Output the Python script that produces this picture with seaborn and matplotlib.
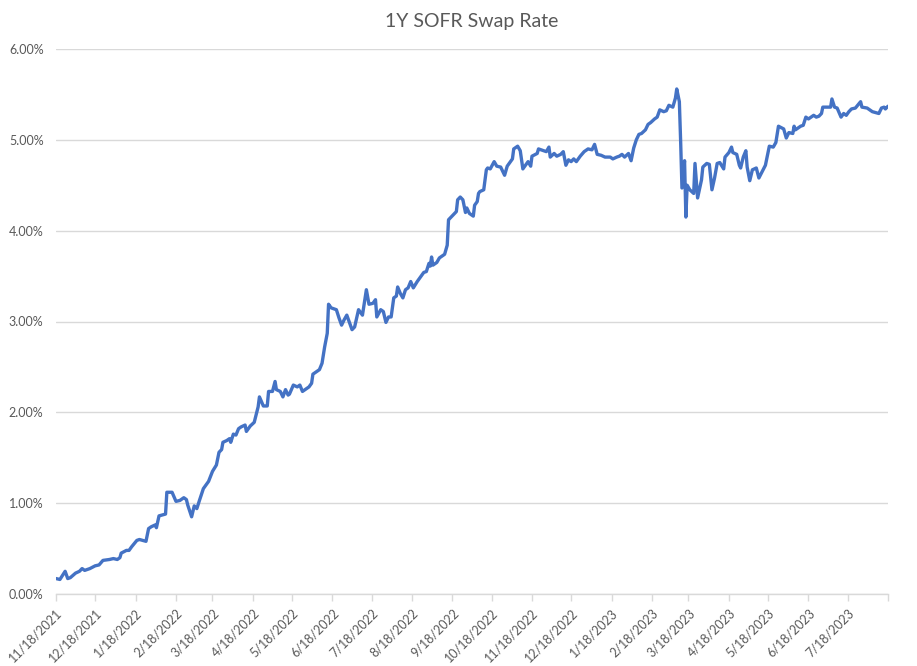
import numpy as np
import pandas as pd
import matplotlib
matplotlib.use("Agg")
import matplotlib.pyplot as plt
import matplotlib.dates as mdates
from matplotlib.ticker import FuncFormatter, FixedLocator
import seaborn as sns

# ---- data ----
title = "1Y SOFR Swap Rate"
start_date = "2021-11-18"
end_date = "2023-08-18"

# days since start_date
days = [0, 3, 7, 9, 11, 15, 18, 20, 22, 26, 30, 33, 36, 41, 44, 47, 49, 50, 54, 56,
        58, 62, 64, 69, 71, 73, 76, 77, 79, 84, 85, 89, 92, 95, 98, 100, 101, 104, 106, 108,
        110, 113, 117, 120, 123, 125, 127, 128, 131, 133, 134, 136, 138, 140, 142, 145, 146, 149, 152, 155,
        156, 159, 162, 163, 166, 168, 169, 172, 174, 176, 178, 179, 182, 185, 187, 189, 194, 196, 197, 202,
        204, 206, 208, 209, 211, 215, 217, 219, 221, 223, 227, 229, 232, 235, 238, 240, 243, 245, 246, 249,
        251, 253, 255, 257, 259, 261, 262, 264, 266, 268, 270, 272, 274, 277, 279, 282, 284, 286, 287, 288,
        289, 292, 294, 298, 300, 301, 303, 307, 308, 310, 312, 314, 315, 317, 320, 321, 323, 324, 325, 328,
        330, 331, 333, 336, 338, 341, 344, 346, 350, 351, 354, 356, 358, 360, 362, 364, 365, 369, 370, 374,
        376, 378, 379, 382, 384, 387, 389, 391, 393, 395, 397, 399, 402, 405, 408, 411, 413, 415, 418, 421,
        425, 427, 430, 432, 434, 436, 439, 441, 443, 445, 447, 449, 452, 454, 456, 459, 461, 463, 466, 468,
        470, 473, 475, 476, 478, 479, 480, 482, 483, 484, 486, 489, 490, 492, 495, 496, 499, 501, 503, 505,
        507, 509, 512, 513, 516, 518, 519, 522, 524, 525, 527, 529, 530, 532, 534, 537, 539, 544, 547, 550,
        552, 554, 558, 560, 562, 565, 566, 567, 571, 573, 575, 577, 581, 583, 585, 587, 588, 594, 595, 597,
        599, 602, 604, 606, 608, 610, 613, 617, 618, 622, 626, 631, 633, 635, 636, 638]

# rate in percent
rates = [0.17, 0.16, 0.25, 0.17, 0.18, 0.23, 0.25, 0.28, 0.26, 0.28, 0.31, 0.32, 0.37, 0.38, 0.39, 0.38, 0.40, 0.45, 0.48, 0.48,
         0.52, 0.59, 0.60, 0.58, 0.72, 0.74, 0.76, 0.73, 0.86, 0.88, 1.12, 1.12, 1.02, 1.03, 1.06, 1.04, 0.98, 0.85, 0.97, 0.94,
         1.03, 1.16, 1.24, 1.35, 1.42, 1.56, 1.59, 1.67, 1.69, 1.71, 1.67, 1.76, 1.75, 1.82, 1.84, 1.86, 1.79, 1.85, 1.89, 2.06,
         2.17, 2.07, 2.07, 2.23, 2.23, 2.34, 2.25, 2.23, 2.17, 2.25, 2.19, 2.20, 2.30, 2.28, 2.30, 2.23, 2.28, 2.32, 2.42, 2.47,
         2.54, 2.72, 2.87, 3.19, 3.15, 3.13, 3.04, 2.96, 3.02, 3.07, 2.91, 2.94, 3.13, 3.07, 3.35, 3.19, 3.20, 3.24, 3.05, 3.13,
         3.11, 2.99, 3.05, 3.05, 3.26, 3.28, 3.38, 3.31, 3.26, 3.35, 3.37, 3.44, 3.37, 3.44, 3.48, 3.54, 3.55, 3.64, 3.61, 3.71,
         3.62, 3.65, 3.70, 3.74, 3.84, 4.12, 4.15, 4.21, 4.34, 4.37, 4.34, 4.20, 4.25, 4.19, 4.16, 4.28, 4.32, 4.41, 4.43, 4.45,
         4.67, 4.69, 4.68, 4.76, 4.71, 4.70, 4.61, 4.71, 4.79, 4.90, 4.93, 4.88, 4.68, 4.72, 4.76, 4.71, 4.82, 4.85, 4.90, 4.88,
         4.87, 4.92, 4.81, 4.85, 4.82, 4.84, 4.87, 4.72, 4.78, 4.76, 4.79, 4.76, 4.82, 4.87, 4.90, 4.89, 4.95, 4.84, 4.83, 4.81,
         4.81, 4.79, 4.81, 4.82, 4.84, 4.81, 4.85, 4.77, 4.91, 5.00, 5.06, 5.07, 5.11, 5.17, 5.19, 5.23, 5.25, 5.33, 5.31, 5.32,
         5.38, 5.36, 5.46, 5.56, 5.42, 4.98, 4.47, 4.77, 4.15, 4.50, 4.45, 4.41, 4.74, 4.36, 4.56, 4.70, 4.74, 4.73, 4.45, 4.58,
         4.74, 4.75, 4.68, 4.81, 4.86, 4.92, 4.86, 4.84, 4.72, 4.69, 4.81, 4.88, 4.70, 4.55, 4.67, 4.69, 4.58, 4.72, 4.93, 4.92,
         4.97, 5.15, 5.12, 5.02, 5.08, 5.07, 5.15, 5.11, 5.15, 5.16, 5.25, 5.23, 5.27, 5.25, 5.26, 5.29, 5.36, 5.36, 5.45, 5.36,
         5.35, 5.25, 5.29, 5.27, 5.31, 5.34, 5.35, 5.42, 5.36, 5.35, 5.31, 5.29, 5.35, 5.36, 5.34, 5.37]

tick_dates = [pd.Timestamp(start_date) + pd.DateOffset(months=i) for i in range(22)]
y_ticks = [0, 1, 2, 3, 4, 5, 6]

df = pd.DataFrame({
    "date": pd.Timestamp(start_date) + pd.to_timedelta(days, unit="D"),
    "rate": rates,
})

# ---- style ----
sns.set_theme(style="white")
plt.rcParams["font.family"] = ["Lato", "DejaVu Sans"]

grey_txt = "#595959"
grid_c = "#D9D9D9"

fig = plt.figure(figsize=(9.17, 6.66), dpi=100)
ax = fig.add_axes([56 / 917, 72 / 666, 832 / 917, 545 / 666])

sns.lineplot(data=df, x="date", y="rate", ax=ax, color="#4472C4", linewidth=2.4)

ax.set_xlim(pd.Timestamp(start_date), pd.Timestamp(end_date))
ax.set_ylim(0, 6)
ax.set_yticks(y_ticks)
ax.yaxis.set_major_formatter(FuncFormatter(lambda v, p: f"{v:.2f}%"))

ax.xaxis.set_major_locator(FixedLocator(mdates.date2num(tick_dates)))
labels = [f"{d.month}/{d.day}/{d.year}" for d in tick_dates]
labels[-1] = ""
ax.set_xticklabels(labels)

ax.grid(axis="y", color=grid_c, linewidth=1)
ax.grid(axis="x", visible=False)
for s in ["top", "right", "left"]:
    ax.spines[s].set_visible(False)
ax.spines["bottom"].set_color(grid_c)
ax.spines["bottom"].set_linewidth(1)

ax.tick_params(axis="x", which="major", direction="out", length=5, width=1, color=grid_c,
               labelsize=9, labelcolor=grey_txt, pad=4, bottom=True)
ax.tick_params(axis="y", length=0, labelsize=9, labelcolor=grey_txt, pad=9)
for lab in ax.get_xticklabels():
    lab.set_rotation(45)
    lab.set_ha("right")
    lab.set_rotation_mode("anchor")

ax.set_xlabel("")
ax.set_ylabel("")

fig.text(472 / 917, 1 - 22 / 666, title, ha="center", va="center", fontsize=14, color=grey_txt)

fig.savefig("out.png", dpi=100, facecolor="white")
